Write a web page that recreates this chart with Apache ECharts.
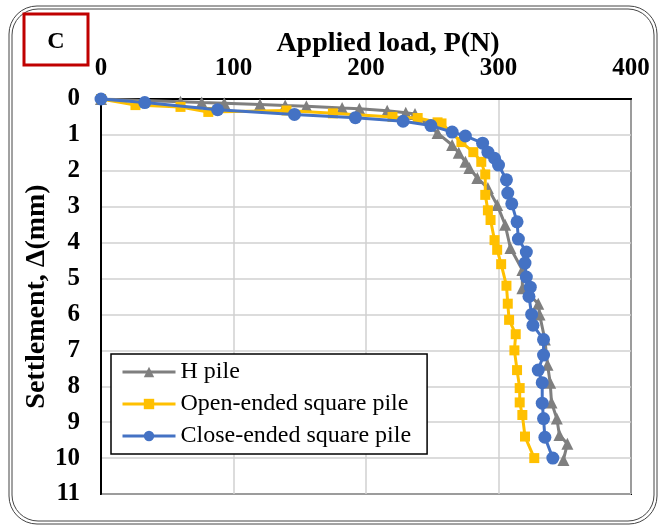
<!DOCTYPE html>
<html>
<head>
<meta charset="utf-8">
<script src="https://cdn.jsdelivr.net/npm/echarts@6/dist/echarts.min.js"></script>
<style>html,body{margin:0;padding:0;background:#fff;}#c{width:659px;height:529px;}</style>
</head>
<body>
<div id="c"></div>
<script>
var xTicks = [0, 100, 200, 300, 400];
var yTicks = [0, 1, 2, 3, 4, 5, 6, 7, 8, 9, 10, 11];
var seriesNames = ['H pile', 'Open-ended square pile', 'Close-ended square pile'];

var hLoad   = [0, 60, 76, 93, 120, 139, 155, 182, 195, 216, 230, 237, 254, 265, 270, 275, 278, 284, 292, 299, 305, 309, 318, 318, 330, 331, 335, 337, 339, 340, 344, 346, 352, 349];
var hSettle = [0, 0.08, 0.1, 0.12, 0.15, 0.18, 0.2, 0.25, 0.27, 0.33, 0.38, 0.42, 0.95, 1.28, 1.5, 1.75, 1.92, 2.2, 2.48, 2.95, 3.5, 4.15, 4.76, 5.27, 5.7, 6.0, 6.7, 7.4, 7.9, 8.45, 8.9, 9.36, 9.6, 10.05];

var openLoad   = [0, 26, 60, 81, 140, 175, 220, 239, 254, 257, 272, 281, 287, 290, 290, 292, 294, 297, 299, 302, 306, 307, 308, 313, 312, 314, 316, 316, 318, 320, 327];
var openSettle = [0, 0.17, 0.22, 0.36, 0.32, 0.4, 0.5, 0.53, 0.65, 0.68, 1.2, 1.48, 1.75, 2.1, 2.67, 3.1, 3.37, 3.93, 4.2, 4.6, 5.2, 5.7, 6.15, 6.55, 7.0, 7.55, 8.05, 8.45, 8.8, 9.4, 10.0];

var closeLoad   = [0, 33, 88, 146, 192, 228, 249, 265, 275, 288, 292, 297, 300, 306, 307, 310, 314, 315, 321, 320, 321, 324, 323, 325, 326, 334, 334, 330, 333, 333, 334, 335, 341];
var closeSettle = [0, 0.1, 0.3, 0.43, 0.52, 0.62, 0.74, 0.92, 1.03, 1.23, 1.48, 1.65, 1.84, 2.25, 2.62, 2.92, 3.42, 3.9, 4.26, 4.57, 4.96, 5.24, 5.5, 6.0, 6.3, 6.7, 7.13, 7.55, 7.9, 8.47, 8.9, 9.42, 10.0];

function pairs(a, b) { return a.map(function (v, i) { return [v, b[i]]; }); }

var serif = 'Liberation Serif';
var chart = echarts.init(document.getElementById('c'), null, {renderer: 'canvas'});
chart.setOption({
  animation: false,
  backgroundColor: '#fff',
  grid: {left: 101, top: 99, right: 28, bottom: 35, show: true, borderColor: '#000', borderWidth: 2, backgroundColor: 'transparent'},
  xAxis: {
    type: 'value', position: 'top', min: xTicks[0], max: xTicks[xTicks.length - 1], interval: 100,
    name: 'Applied load, P(N)', nameLocation: 'middle', nameGap: 41, nameMoveOverlap: false,
    nameTextStyle: {fontFamily: serif, fontWeight: 'bold', fontSize: 28, color: '#000', padding: [0, 0, 0, 44]},
    axisLine: {show: true, lineStyle: {color: '#000', width: 2}},
    axisTick: {show: false},
    axisLabel: {fontFamily: serif, fontWeight: 'bold', fontSize: 25, color: '#000', margin: 18},
    splitLine: {show: true, lineStyle: {color: '#d0d0d0', width: 1.5}}
  },
  yAxis: {
    type: 'value', inverse: true, min: yTicks[0], max: yTicks[yTicks.length - 1], interval: 1,
    name: 'Settlement, \u0394(mm)', nameLocation: 'middle', nameGap: 50, nameMoveOverlap: false,
    nameTextStyle: {fontFamily: serif, fontWeight: 'bold', fontSize: 28, color: '#000'},
    axisLine: {show: true, lineStyle: {color: '#000', width: 2}},
    axisTick: {show: false},
    axisLabel: {fontFamily: serif, fontWeight: 'bold', fontSize: 25, color: '#000', margin: 21},
    splitLine: {show: true, lineStyle: {color: '#d0d0d0', width: 1.5}}
  },
  legend: {
    orient: 'vertical', left: 111, top: 354, itemWidth: 53, itemHeight: 13, itemGap: 8,
    padding: [6, 16, 6, 10], borderColor: '#000', borderWidth: 1.5, backgroundColor: '#fff',
    lineStyle: {width: 3},
    textStyle: {fontFamily: serif, fontSize: 24, color: '#000'},
    data: seriesNames
  },
  series: [
    {name: seriesNames[0], type: 'line', data: pairs(hLoad, hSettle), symbol: 'triangle', symbolSize: 12,
     lineStyle: {color: '#7f7f7f', width: 3}, itemStyle: {color: '#7f7f7f'}, z: 2},
    {name: seriesNames[1], type: 'line', data: pairs(openLoad, openSettle), symbol: 'rect', symbolSize: 10,
     lineStyle: {color: '#FFC000', width: 3}, itemStyle: {color: '#FFC000'}, z: 3},
    {name: seriesNames[2], type: 'line', data: pairs(closeLoad, closeSettle), symbol: 'circle', symbolSize: 13,
     lineStyle: {color: '#4472C4', width: 3}, itemStyle: {color: '#4472C4'}, z: 4}
  ],
  graphic: [
    {type: 'rect', shape: {x: 9, y: 6, width: 648, height: 518, r: 28}, style: {fill: null, stroke: '#444', lineWidth: 1}, z: 0, silent: true},
    {type: 'rect', shape: {x: 12, y: 9, width: 642, height: 512, r: 26}, style: {fill: null, stroke: '#444', lineWidth: 1}, z: 0, silent: true},
    {type: 'rect', shape: {x: 24, y: 14, width: 64, height: 51}, style: {fill: '#fff', stroke: '#C00000', lineWidth: 3}, z: 10},
    {type: 'text', x: 56, y: 42, style: {text: 'C', font: 'bold 24px "Liberation Serif"', fill: '#000', textAlign: 'center', textVerticalAlign: 'middle'}, z: 11}
  ]
});
</script>
</body>
</html>
